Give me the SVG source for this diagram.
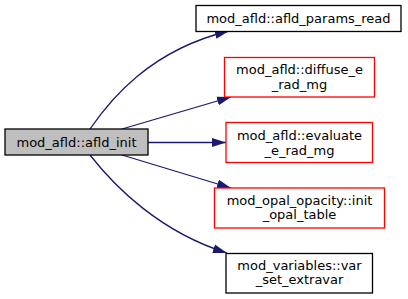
<svg xmlns="http://www.w3.org/2000/svg" width="408" height="299" viewBox="0 0 408 299">
<defs>
<style>
.n rect{stroke-width:1.3}
.blk rect{fill:#fff;stroke:#000}
.red rect{fill:#fff;stroke:#ff0000}
.cur rect{fill:#bfbfbf;stroke:#000}
text{font-family:"DejaVu Sans",sans-serif;font-size:13px;text-anchor:middle;fill:#000}
.e path{fill:none;stroke:#191970;stroke-width:1.3}
</style>
<marker id="ah" markerWidth="14" markerHeight="10" refX="14" refY="5" orient="auto" markerUnits="userSpaceOnUse">
<polygon points="0,0.5 14,5 0,9.5" fill="#191970"/>
</marker>
</defs>
<rect width="408" height="299" fill="#fff"/>
<g id="edges" class="e">
<path d="M90,129 C110,100 150,50 229,31" marker-end="url(#ah)"/>
<path d="M122,129 L231,97" marker-end="url(#ah)"/>
<path d="M148,142.5 L226,142.5" marker-end="url(#ah)"/>
<path d="M122,155 L231,188" marker-end="url(#ah)"/>
<path d="M90,155 C115,187 160,232 227,253" marker-end="url(#ah)"/>
</g>
<g id="node_afld_init" class="n cur">
<rect x="5" y="129" width="143" height="26"/>
<text x="76.5" y="146.5">mod_afld::afld_init</text>
</g>
<g id="node_afld_params_read" class="n blk">
<rect x="196" y="5.5" width="205" height="26"/>
<text x="298.5" y="22.5">mod_afld::afld_params_read</text>
</g>
<g id="node_diffuse" class="n red">
<rect x="224.5" y="57.5" width="150" height="39.5"/>
<text x="299.5" y="74">mod_afld::diffuse_e</text>
<text x="299.5" y="89">_rad_mg</text>
</g>
<g id="node_evaluate" class="n red">
<rect x="226" y="122.5" width="146.5" height="40"/>
<text x="299.5" y="139.5">mod_afld::evaluate</text>
<text x="299.5" y="154.5">_e_rad_mg</text>
</g>
<g id="node_init_opal" class="n red">
<rect x="214.5" y="188" width="170" height="40"/>
<text x="299.5" y="204.5">mod_opal_opacity::init</text>
<text x="299.5" y="219">_opal_table</text>
</g>
<g id="node_var_set" class="n blk">
<rect x="226" y="253.5" width="146.5" height="39.5"/>
<text x="299.5" y="269.5">mod_variables::var</text>
<text x="299.5" y="284">_set_extravar</text>
</g>
</svg>
